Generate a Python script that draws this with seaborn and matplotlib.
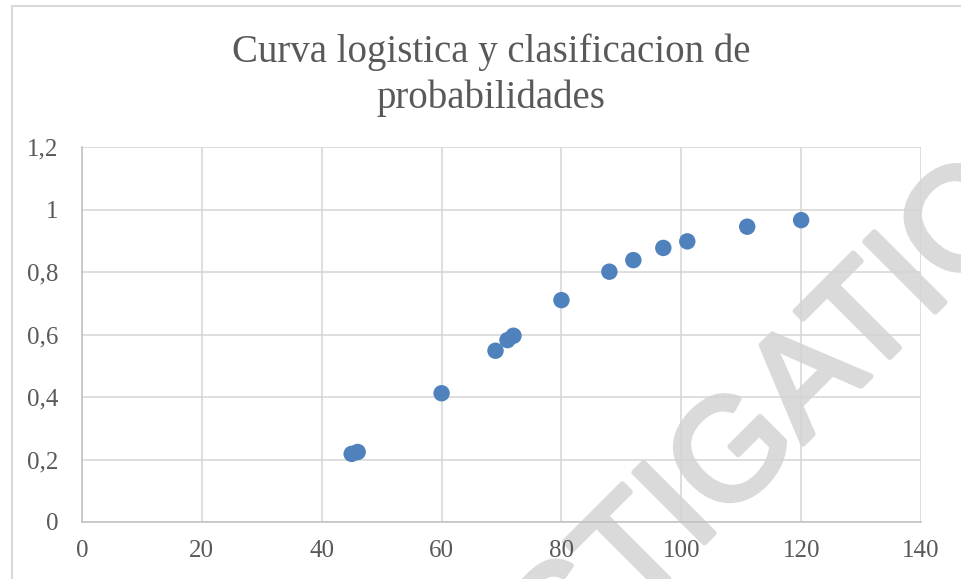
import pandas as pd
import matplotlib.pyplot as plt
import matplotlib.patheffects as pe
import seaborn as sns
from matplotlib.lines import Line2D

# values
x_vals = [45, 46, 60, 69, 71, 72, 80, 88, 92, 97, 101, 111, 120]
p_vals = [0.218, 0.224, 0.412, 0.548, 0.582, 0.596, 0.710, 0.801, 0.838, 0.877, 0.898, 0.945, 0.966]
x_ticks = [0, 20, 40, 60, 80, 100, 120, 140]
y_ticks = [0, 0.2, 0.4, 0.6, 0.8, 1.0, 1.2]
y_labels = ["0", "0,2", "0,4", "0,6", "0,8", "1", "1,2"]
title = "Curva logistica y clasificacion de\nprobabilidades"

df = pd.DataFrame({"x": x_vals, "p": p_vals})

sns.set_theme(style="whitegrid")
plt.rcParams['font.family'] = ['Liberation Serif', 'DejaVu Serif']

W, H = 961, 579
fig = plt.figure(figsize=(W / 100, H / 100), dpi=100)
ax = fig.add_axes([82 / W, 1 - 522 / H, (921 - 82) / W, (522 - 147) / H])

sns.scatterplot(data=df, x="x", y="p", ax=ax, color="#4F81BD", s=140,
                edgecolor="none", zorder=3, clip_on=False)

ax.set_xlim(0, 140)
ax.set_ylim(0, 1.2)
ax.set_xticks(x_ticks)
ax.set_xticklabels([str(t) for t in x_ticks])
ax.set_yticks(y_ticks)
ax.set_yticklabels(y_labels)
ax.set_xlabel("")
ax.set_ylabel("")
ax.grid(True, color="#d4d4d4", linewidth=1.1)
ax.tick_params(axis="both", length=0, labelsize=18, labelcolor="#595959")
ax.tick_params(axis="x", pad=13)
ax.tick_params(axis="y", pad=17)
for side in ["top", "right"]:
    ax.spines[side].set_visible(False)
for side in ["left", "bottom"]:
    ax.spines[side].set_color("#bfbfbf")
    ax.spines[side].set_linewidth(1.1)
ax.patch.set_alpha(0)

fig.text(491 / W, 1 - 75 / H, title, ha="center", va="center",
         fontsize=28, color="#595959", linespacing=1.3)

# chart area border (cropped on the right and bottom)
fig.add_artist(Line2D([12 / W, 1.0], [1 - 6 / H, 1 - 6 / H], color="#d9d9d9", lw=1.5))
fig.add_artist(Line2D([12 / W, 12 / W], [0.0, 1 - 6 / H], color="#d9d9d9", lw=1.5))

# watermark of the page, behind the grid
fig.text(717 / W, 1 - 530 / H, "INVESTIGATION", ha="center", va="baseline",
         rotation=45, rotation_mode="anchor", fontsize=104,
         family="Liberation Sans", color="#dadada", zorder=-1,
         path_effects=[pe.withStroke(linewidth=4, foreground="#dadada")])

fig.savefig("out.png", dpi=100)
